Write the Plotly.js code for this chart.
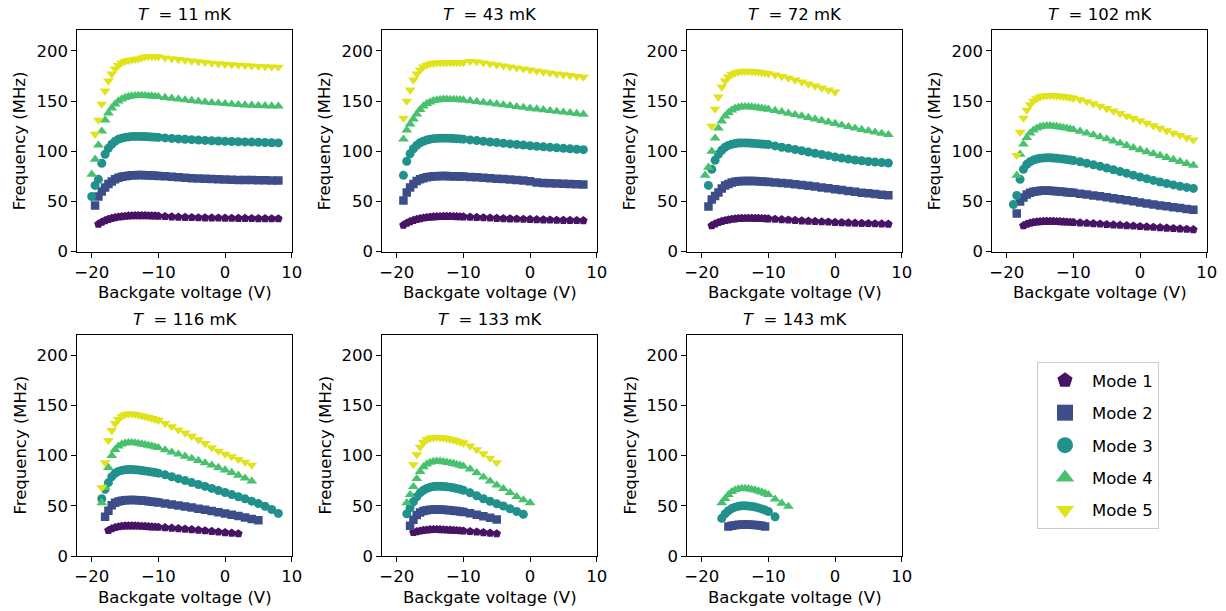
<!DOCTYPE html>
<html>
<head>
<meta charset="utf-8">
<script src="https://cdn.plot.ly/plotly-3.0.1.min.js"></script>
<style>html,body{margin:0;padding:0;background:#fff;}#chart{width:1226px;height:611px;}</style>
</head>
<body>
<div id="chart"></div>
<script>
const _ = null;
// Backgate voltage grid (V)
const V = [-20,-19.5,-19,-18.5,-18,-17.5,-17,-16.5,-16,-15.5,-15,-14.5,-14,-13.5,-13,-12.5,-12,-11.5,-11,-10.5,-10,-9,-8,-7,-6,-5,-4,-3,-2,-1,0,1,2,3,4,5,6,7,8];
const temps = [11, 43, 72, 102, 116, 133, 143];
const modeNames = ['Mode 1', 'Mode 2', 'Mode 3', 'Mode 4', 'Mode 5'];

// Frequencies (MHz), aligned with V; null = no point
const f11_m1 = [_,_,27.5,29.5,31,32.3,33.3,34,34.6,35,35.4,35.7,35.9,36,36,36,36,35.9,35.8,35.7,35.5,35.1,34.8,34.5,34.3,34.1,33.9,33.8,33.7,33.6,33.5,33.4,33.3,33.2,33.1,33,33,32.9,32.9];
const f11_m2 = [_,46,55,60,64,67.5,70,72,73.5,74.5,75.2,75.7,76,76.2,76.3,76.3,76.2,76,75.8,75.6,75.4,75,74.5,74,73.6,73.2,72.9,72.6,72.3,72.1,71.9,71.7,71.5,71.4,71.3,71.2,71.1,71,71];
const f11_m3 = [55,66,72,88,97,103,107,110,112,113,113.8,114.3,114.6,114.8,114.8,114.7,114.6,114.4,114.2,114,113.8,113.3,112.8,112.3,111.9,111.5,111.1,110.8,110.5,110.2,110,109.7,109.5,109.3,109.1,108.9,108.7,108.5,108.3];
const f11_m4 = [77,92,106,120,131,138,143,147,150,152,153.5,154.5,155,155.3,155.4,155.4,155.3,155.1,154.9,154.6,154.3,153.5,152.7,151.9,151.1,150.4,149.7,149,148.4,147.8,147.3,146.8,146.4,146,145.7,145.4,145.2,145,144.8];
const f11_m5 = [_,117,131,147,160,170,177,182,185.5,188,189.5,190.5,191,191.5,192,193,194,194.5,194.5,194.3,194,193,192.2,191.4,190.6,189.9,189.2,188.5,187.8,187.2,186.7,186.2,185.8,185.4,185,184.6,184.3,184,183.8];

const f43_m1 = [_,_,26.5,28.5,30,31.2,32.2,33,33.6,34.1,34.5,34.8,35,35.1,35.2,35.2,35.2,35.1,35,34.9,34.8,34.5,34.2,33.9,33.6,33.3,33,32.8,32.6,32.4,32.2,32,31.8,31.6,31.4,31.3,31.2,31.1,31];
const f43_m2 = [_,_,51,59,64,67.5,70.5,72,73.2,74,74.6,75,75.2,75.3,75.3,75.3,75.2,75.1,75,74.9,74.8,74.4,74,73.6,73.1,72.7,72.3,71.8,71.3,70.8,70.2,68.8,68.5,68.2,67.9,67.6,67.4,67.2,67];
const f43_m3 = [_,_,76,90,97.5,102.5,106,108.5,110,111.2,112,112.5,112.8,113,113,113,112.9,112.7,112.5,112.3,112,111.3,110.6,109.9,109.2,108.6,108,107.3,106.7,106.1,105.5,104.9,104.4,103.9,103.4,102.9,102.4,102,101.6];
const f43_m4 = [_,_,112,121,127,132,137,141.5,145,147.5,149,150.3,151,151.5,151.7,151.7,151.6,151.5,151.3,151.2,151,150.2,149.5,148.6,147.8,147,146.1,145.3,144.4,143.6,142.8,142,141.2,140.4,139.6,138.9,138.2,137.5,136.8];
const f43_m5 = [_,_,133,150,161,171,177,181,184,185.8,187,187.7,188,188.2,188.3,188.3,188.3,188.3,188.3,188.3,188.5,189.5,189,188,187,186,185,184,183,182,181,180,179,178,177,176.2,175.4,174.6,173.8];

const f72_m1 = [_,_,_,26,27.8,29.1,30.2,31.1,31.8,32.4,32.8,33.1,33.3,33.4,33.4,33.4,33.3,33.2,33.1,33,32.8,32.4,32,31.6,31.2,30.8,30.5,30.2,29.9,29.6,29.3,29,28.7,28.5,28.3,28.1,27.9,27.7,27.5];
const f72_m2 = [_,_,45,52,55.5,59,63,65.8,67.5,68.8,69.6,70.1,70.4,70.5,70.5,70.4,70.3,70.1,69.9,69.7,69.5,69,68.5,67.9,67.2,66.4,65.6,64.8,64,63.1,62.2,61.3,60.4,59.6,58.8,58.1,57.4,56.8,56.3];
const f72_m3 = [_,_,66,82,91,97,101,104,105.8,107,107.7,108.1,108.3,108.3,108.2,108,107.8,107.5,107.2,106.9,106.6,105.3,104,102.9,101.7,100.5,99.3,98,96.8,95.6,94.3,93.2,92.2,91.3,90.5,89.8,89.2,88.7,88.3];
const f72_m4 = [_,76,84,100,113,123,130,135,138.5,141,142.7,143.7,144.2,144.4,144.3,144,143.6,143.2,142.8,142.3,141.8,140.5,139.2,137.8,136.4,135,133.5,132,130.5,129,127.5,126,124.5,123,121.6,120.3,119,117.7,116.5];
const f72_m5 = [_,_,_,125,142,154,164,170,174,176.5,178,179,179.5,179.7,179.7,179.5,179.2,178.8,178.3,177.8,177.3,176,174.5,172.8,171,169,167,165,163,161,159];

const f102_m1 = [_,_,_,_,_,26,27.5,28.5,29.2,29.7,30,30.2,30.3,30.3,30.2,30.1,30,29.8,29.6,29.4,29.2,28.8,28.4,28,27.6,27.2,26.8,26.4,26,25.6,25.2,24.8,24.4,24,23.6,23.2,22.8,22.4,22];
const f102_m2 = [_,_,_,38,50,54,57,58.6,59.6,60.2,60.6,60.8,60.8,60.7,60.5,60.2,59.9,59.6,59.3,59,58.6,57.8,56.9,56,55.1,54.1,53.1,52.1,51.1,50.1,49.1,48.1,47.1,46.1,45.2,44.3,43.4,42.5,41.7];
const f102_m3 = [_,_,47,56,72,82,87,89.5,91.2,92.3,93,93.4,93.5,93.5,93.3,93,92.6,92.2,91.7,91.2,90.7,89.5,88.1,86.6,85,83.3,81.6,79.8,78,76.2,74.4,72.7,71,69.4,67.9,66.5,65.2,64,63];
const f102_m4 = [_,_,_,76,97,107,113.5,118,121,123,124.3,125,125.3,125.3,125,124.6,124.1,123.5,122.9,122.2,121.5,119.8,118,116.2,114.3,112.3,110.2,108,105.7,103.4,101.4,99.5,97.6,95.7,93.7,91.7,89.7,87.8,86];
const f102_m5 = [_,_,_,96,119,133,141,146.5,150,152.5,154,155,155.5,155.6,155.5,155.2,154.9,154.5,154,153.4,152.8,151.3,149.5,147.3,145,142.6,140.1,137.6,135,132.7,130.5,128,125.5,123,120.5,118,115.8,113.5,111.2];

const f116_m1 = [_,_,_,_,_,25.5,27.2,28.4,29.2,29.7,30,30.1,30.1,30,29.9,29.7,29.5,29.3,29.1,28.9,28.7,28.3,27.8,27.3,26.8,26.3,25.8,25.2,24.6,24,23.4,22.8,22.2];
const f116_m2 = [_,_,_,_,39,45,50.5,53,54.3,55,55.5,55.7,55.8,55.7,55.5,55.2,54.9,54.5,54.1,53.7,53.3,52.3,51.3,50.3,49.3,48.2,47.1,46,44.8,43.6,42.3,41,39.7,38.3,36.9,35.5];
const f116_m3 = [_,_,_,57,66.5,73,79,82.3,84.2,85.2,85.8,86,86,85.8,85.5,85.1,84.7,84.2,83.7,83.1,82.5,80.8,78.9,77,75.1,73.1,71.2,69.3,67.3,65.2,63.2,61.1,59,56.9,54.6,52.2,49.5,46.3,42.4];
const f116_m4 = [_,_,_,53,68,88,100,106,109.3,111.3,112.3,112.8,112.8,112.5,112,111.4,110.8,110.1,109.4,108.6,107.8,105.6,103.4,101.3,99.2,97.1,95,92.7,90.4,88,85.6,83,80.3,77.5,74.5];
const f116_m5 = [_,_,_,68,93,115,125,132,136,139,140.8,141.6,141.6,141,140.3,139.6,138.8,138,137.1,136.2,135.2,132,128.8,125.6,122.5,119.3,115.8,112,108,104.5,101.5,99,96.3,93.5,90.5];

const f133_m1 = [_,_,_,_,_,23.5,24.3,25,25.6,26,26.3,26.4,26.4,26.3,26.2,26,25.8,25.6,25.4,25.2,25,24.5,24,23.4,22.8,22.2];
const f133_m2 = [_,_,_,_,30,36,40.8,43.3,44.8,45.6,46.1,46.3,46.4,46.3,46.1,45.8,45.5,45.1,44.7,44.2,43.7,42.5,41.1,39.6,38,36.3];
const f133_m3 = [_,_,_,42,48,54,59,62.8,65.4,67.2,68.4,69.1,69.4,69.4,69.2,68.9,68.5,67.9,67.2,66.4,65.5,62.9,60,57,54.5,52,49.8,47,44.3,41.5];
const f133_m4 = [_,_,_,53,61,69,77,84,88.8,91.5,93.2,94,94.3,94.2,93.8,93.3,92.7,92,91.2,90.3,89.3,86.5,82.8,78.5,74.5,70.5,67,63,59,55.8,53];
const f133_m5 = [_,_,_,_,_,91,101,108.5,113,115.8,117.3,118,118.2,118,117.6,117,116.3,115.5,114.6,113.6,112.6,109.5,106,101.8,97.5,93];

const f143_m1 = [];
const f143_m2 = [_,_,_,_,_,_,_,_,29.3,30.1,30.7,31.1,31.3,31.4,31.4,31.2,30.9,30.5,30,29.4];
const f143_m3 = [_,_,_,_,_,_,37.5,42,45,47.2,48.6,49.5,49.9,50,49.8,49.4,48.7,47.9,46.9,45.7,44.3,39];
const f143_m4 = [_,_,_,_,_,_,53,57,61,64,65.8,66.8,67.2,67.2,66.9,66.3,65.6,64.7,63.6,62.4,61,56.5,52.5,49.3];
const f143_m5 = [];

const panels = [
  [f11_m1, f11_m2, f11_m3, f11_m4, f11_m5],
  [f43_m1, f43_m2, f43_m3, f43_m4, f43_m5],
  [f72_m1, f72_m2, f72_m3, f72_m4, f72_m5],
  [f102_m1, f102_m2, f102_m3, f102_m4, f102_m5],
  [f116_m1, f116_m2, f116_m3, f116_m4, f116_m5],
  [f133_m1, f133_m2, f133_m3, f133_m4, f133_m5],
  [f143_m1, f143_m2, f143_m3, f143_m4, f143_m5]
];

// styles
const colors = ['#471365', '#3d4d8a', '#21918c', '#48c16e', '#dfe318'];
const symbols = ['pentagon', 'square', 'circle', 'triangle-up', 'triangle-down'];
const sizes = [9, 8.5, 9, 9.5, 9.5];
const FONT = 'DejaVu Sans, sans-serif';
const FS = 16.5;
const W = 1226, H = 611;
const colLeft = [77.3, 382.3, 687.3, 992.3];
const axW = 214.6;
const rowTop = [30.2, 334.5];
const axH = 221.5;

const traces = [];
const layout = {
  width: W, height: H,
  margin: {l: 0, r: 0, t: 0, b: 0},
  paper_bgcolor: '#ffffff', plot_bgcolor: '#ffffff',
  font: {family: FONT, size: FS, color: '#000'},
  showlegend: true,
  legend: {
    x: 1037 / W, y: 1 - 362 / H, xanchor: 'left', yanchor: 'top',
    bordercolor: '#cccccc', borderwidth: 1, bgcolor: '#ffffff',
    font: {family: FONT, size: FS, color: '#000'},
    tracegroupgap: 8, itemwidth: 44
  },
  annotations: []
};

panels.forEach((series, p) => {
  const row = Math.floor(p / 4), col = p % 4;
  const sfx = p === 0 ? '' : String(p + 1);
  const x0 = colLeft[col] / W, x1 = (colLeft[col] + axW) / W;
  const yTopPx = rowTop[row], yBotPx = rowTop[row] + axH;
  const y0 = 1 - yBotPx / H, y1 = 1 - yTopPx / H;
  const common = {
    showline: true, mirror: true, linecolor: '#000', linewidth: 1,
    ticks: 'outside', ticklen: 5, tickwidth: 1, tickcolor: '#000',
    showgrid: false, zeroline: false, fixedrange: true,
    tickfont: {family: FONT, size: FS, color: '#000'}
  };
  layout['xaxis' + sfx] = Object.assign({}, common, {
    domain: [x0, x1], range: [-22.17, 10.03], tickvals: [-20, -10, 0, 10],
    anchor: 'y' + sfx
  });
  layout['yaxis' + sfx] = Object.assign({}, common, {
    domain: [y0, y1], range: [0, 220.5], tickvals: [0, 50, 100, 150, 200],
    anchor: 'x' + sfx
  });
  series.forEach((f, m) => {
    if (!f.length) return;
    traces.push({
      type: 'scatter', mode: 'markers', x: V, y: f,
      xaxis: 'x' + sfx, yaxis: 'y' + sfx,
      marker: {symbol: symbols[m], color: colors[m], size: sizes[m], line: {width: 0}},
      showlegend: false, hoverinfo: 'skip', name: modeNames[m]
    });
  });
  const cx = (x0 + x1) / 2;
  layout.annotations.push({
    xref: 'paper', yref: 'paper', x: cx, y: 1 - (yTopPx - 15.5) / H,
    xanchor: 'center', yanchor: 'middle', showarrow: false,
    text: '<i>T</i>\u00a0 = ' + temps[p] + ' mK', font: {family: FONT, size: FS, color: '#000'}
  });
  layout.annotations.push({
    xref: 'paper', yref: 'paper', x: cx, y: 1 - (yBotPx + 41) / H,
    xanchor: 'center', yanchor: 'middle', showarrow: false,
    text: 'Backgate voltage (V)', font: {family: FONT, size: FS, color: '#000'}
  });
  layout.annotations.push({
    xref: 'paper', yref: 'paper', x: (colLeft[col] - 57) / W, y: (y0 + y1) / 2,
    xanchor: 'center', yanchor: 'middle', showarrow: false, textangle: -90,
    text: 'Frequency (MHz)', font: {family: FONT, size: FS, color: '#000'}
  });
});

// legend entries
modeNames.forEach((nm, m) => {
  traces.push({
    type: 'scatter', mode: 'markers', x: [null], y: [null],
    xaxis: 'x', yaxis: 'y', name: nm, legendgroup: 'g' + m,
    marker: {symbol: symbols[m], color: colors[m], size: 16, line: {width: 0}},
    showlegend: true, hoverinfo: 'skip'
  });
});

Plotly.newPlot('chart', traces, layout, {staticPlot: true, displayModeBar: false});
</script>
</body>
</html>
